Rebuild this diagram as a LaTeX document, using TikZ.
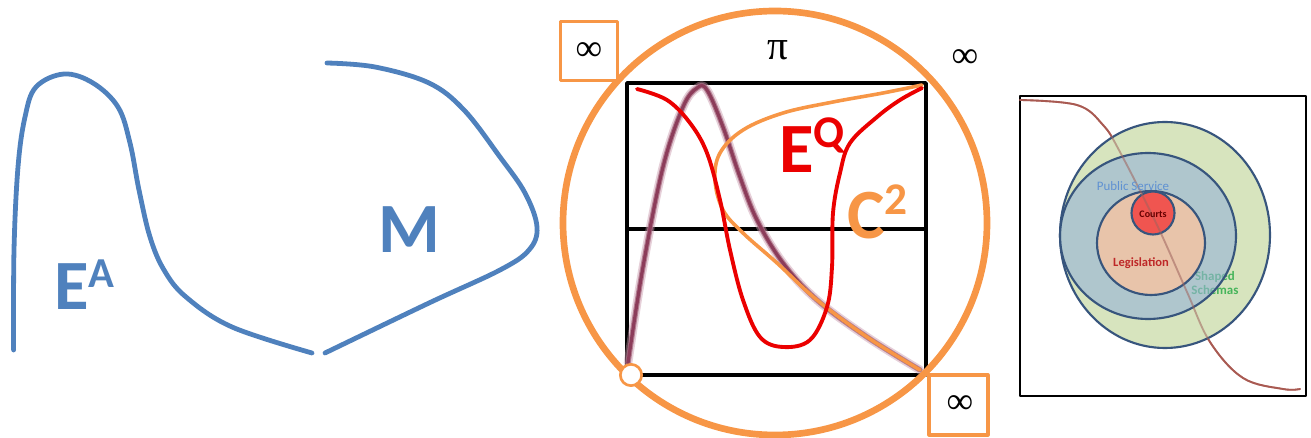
\documentclass[tikz,border=0pt]{standalone}
\usepackage{fontspec}
\setmainfont{Carlito}
\newfontfamily\tnr{Liberation Serif}
\definecolor{bluec}{RGB}{79,129,189}
\definecolor{orangec}{RGB}{247,150,70}
\definecolor{redc}{RGB}{235,0,0}
\definecolor{purplec}{RGB}{140,60,90}
\definecolor{pinkhalo}{RGB}{200,150,170}
\definecolor{greenfill}{RGB}{215,228,190}
\definecolor{bluefill}{RGB}{149,179,215}
\definecolor{peach}{RGB}{232,196,170}
\definecolor{courtred}{RGB}{240,85,80}
\definecolor{edgeblue}{RGB}{55,85,125}
\definecolor{brownc}{RGB}{180,80,70}
\definecolor{pubblue}{RGB}{95,145,210}
\definecolor{legred}{RGB}{190,40,40}
\definecolor{schgreen}{RGB}{70,180,90}
\tikzset{
  bigtxt/.style={inner sep=0pt, anchor=base west, font=\bfseries\fontsize{53}{53}\selectfont},
  symtxt/.style={inner sep=0pt, font=\tnr\fontsize{28}{28}\selectfont},
  infbox/.style={draw=orangec, line width=2.6pt, fill=white},
  ring/.style={draw=edgeblue, line width=1.6pt}
}
\begin{document}
\begin{tikzpicture}[x=0.75pt,y=-0.75pt, line cap=round, line join=round]
\useasboundingbox (0,0) rectangle (1311,438);
% ---------- left panel ----------
\draw[bluec, line width=3.6pt] plot[smooth, tension=0.6] coordinates {(13.6,350) (14,250) (18,167) (25,117) (36,87) (64,74) (93,83) (118,107) (130,143) (139,190) (150,237) (164,270) (186,297) (232,327) (312,353)};
\draw[bluec, line width=3.6pt] plot[smooth, tension=0.6] coordinates {(327,63) (375,67) (429,83) (464,110) (500,157) (525,193) (537,227) (529,250) (500,270) (429,303) (325,353)};
\node[bigtxt, text=bluec] (ea) at (54,310) {E\raisebox{17pt}{\fontsize{32}{32}\selectfont A}};
\node[bigtxt, text=bluec] (m) at (378,253) {M};
% ---------- centre panel ----------
\draw[black, line width=2.8pt] (627,83) rectangle (926,375);
\draw[black, line width=2.8pt] (627,229) -- (926,229);
% purple blurred curve
\foreach \w/\c/\o in {6.5/pinkhalo/0.45, 4/purplec!75/0.8, 2.4/purplec/1}{
\draw[\c, line width=\w pt, opacity=\o] plot[smooth, tension=0.6] coordinates {(628,363) (643,267) (663,167) (683,107) (697,88) (707,90) (723,127) (740,177) (757,220) (783,263) (817,300) (867,337) (920,370)};
}
% orange C2 curve
\draw[orangec, line width=2.7pt] plot[smooth, tension=0.6] coordinates {(922,85) (883,93) (833,102) (783,113) (743,130) (720,153) (715,180) (723,210) (743,233) (777,263) (817,300) (867,337) (920,370)};
% red EQ curve
\draw[redc, line width=2.9pt] plot[smooth, tension=0.6] coordinates {(637,89) (667,100) (690,123) (707,153) (720,200) (730,250) (743,300) (760,337) (783,347) (810,340) (827,307) (832,267) (833,213) (840,173) (850,143) (877,117) (900,100) (922,88)};
\node[bigtxt, text=redc] (eq) at (779,173) {E\raisebox{19pt}{\fontsize{34}{34}\selectfont Q}};
\node[bigtxt, text=orangec] (c2) at (847,239) {C\raisebox{18pt}{\fontsize{34}{34}\selectfont 2}};
% big circle
\draw[orangec, line width=5pt] (775,223) circle[radius=212];
\node[circle, draw=orangec, line width=2pt, fill=white, minimum size=16pt, inner sep=0pt] (dot) at (631,375) {};
% infinity boxes
\node[infbox, minimum width=43pt, minimum height=44pt, inner sep=0pt] (box1) at (589,51) {};
\node[symtxt] (inf1) at (589,52) {∞};
\node[infbox, minimum width=44pt, minimum height=45pt, inner sep=0pt] (box2) at (958.5,405) {};
\node[symtxt] (inf2) at (960,405) {∞};
\node[symtxt] (inf3) at (965,59) {∞};
\node[inner sep=0pt, font=\tnr\fontsize{31}{31}\selectfont] (pi) at (778,50) {π};
% ---------- right panel ----------
\draw[black, line width=1.6pt] (1020,96) rectangle (1306,396);
\def\browncurve{plot[smooth, tension=0.6] coordinates {(1020,100) (1077,105) (1103,125) (1120,152) (1157,225) (1187,292) (1210,342) (1243,378) (1283,389) (1300,389)}}
\draw[brownc, line width=1.4pt] \browncurve;
\draw[ring, fill=greenfill] (1165,235) ellipse[x radius=105, y radius=113];
\node[inner sep=0pt, align=center, text=schgreen, font=\bfseries\fontsize{9.7}{10.5}\selectfont] (shaped) at (1215,283) {Shaped\\Schemas};
\draw[ring, fill=bluefill, fill opacity=0.6] (1148,236) ellipse[x radius=88, y radius=83];
\draw[ring, fill=peach] (1151,243) ellipse[x radius=54, y radius=52];
\draw[ring, fill=courtred] (1153,213) circle[radius=21.5];
\draw[brownc!60!gray, line width=1.4pt, opacity=0.55] \browncurve;
\node[inner sep=0pt, text=pubblue, font=\fontsize{9.7}{10}\selectfont] (pub) at (1133,186) {Public Service};
\node[inner sep=0pt, text=black!60!red, font=\bfseries\fontsize{7.5}{8}\selectfont] (courts) at (1153,214) {Courts};
\node[inner sep=0pt, text=legred, font=\bfseries\fontsize{9.4}{10}\selectfont] (leg) at (1141,263) {Legislation};
\end{tikzpicture}
\end{document}
